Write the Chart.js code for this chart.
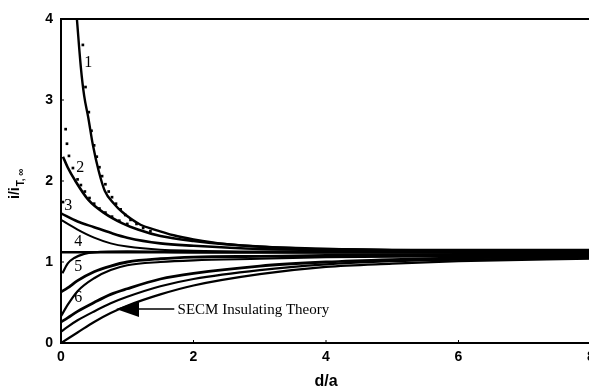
<!DOCTYPE html>
<html>
<head>
<meta charset="utf-8">
<script src="https://cdn.jsdelivr.net/npm/chart.js@4.4.1/dist/chart.umd.min.js"></script>
<style>
  html, body { margin: 0; padding: 0; overflow: hidden; background: #fff; }
  canvas { position: absolute; left: 0; top: 0; }
</style>
</head>
<body>
<canvas id="chart" width="610" height="391"></canvas>
<script>
// curves: x = d/a, y = i/iT,inf
const curve1X = [0.24, 0.30, 0.35, 0.41, 0.48, 0.57, 0.66, 0.80, 0.92, 1.20, 1.41, 1.70, 2.0, 2.5, 3.0, 4.0, 5.0, 6.0, 8.0];
const curve1Y = [4.00, 3.40, 3.05, 2.79, 2.45, 2.12, 1.88, 1.72, 1.62, 1.46, 1.40, 1.33, 1.28, 1.22, 1.19, 1.16, 1.15, 1.15, 1.15];

const curve2X = [0.03, 0.10, 0.21, 0.41, 0.66, 0.92, 1.16, 1.5, 2.0, 3.0, 4.0, 6.0, 8.0];
const curve2Y = [2.30, 2.17, 2.01, 1.77, 1.60, 1.48, 1.40, 1.32, 1.26, 1.19, 1.16, 1.14, 1.14];

const curve3X = [0.0, 0.25, 0.5, 0.75, 1.0, 1.5, 2.0, 3.0, 4.0, 6.0, 8.0];
const curve3Y = [1.60, 1.50, 1.43, 1.36, 1.30, 1.23, 1.20, 1.16, 1.15, 1.14, 1.13];

const curve4X = [0.0, 0.25, 0.5, 0.75, 1.0, 1.5, 2.0, 3.0, 8.0];
const curve4Y = [1.52, 1.40, 1.30, 1.23, 1.19, 1.15, 1.14, 1.13, 1.13];

const flatX = [0.0, 8.0];
const flatY = [1.12, 1.12];

const curveAX = [0.02, 0.10, 0.20, 0.35, 0.50, 1.0, 2.0, 8.0];
const curveAY = [0.86, 0.98, 1.05, 1.10, 1.12, 1.13, 1.12, 1.11];

const curve5X = [0.0, 0.10, 0.25, 0.5, 0.75, 1.0, 1.5, 2.0, 3.0, 4.0, 8.0];
const curve5Y = [0.63, 0.68, 0.77, 0.88, 0.95, 1.00, 1.04, 1.06, 1.07, 1.08, 1.09];

const curveCX = [0.0, 0.10, 0.25, 0.5, 0.75, 1.0, 1.5, 2.0, 3.0, 4.0, 8.0];
const curveCY = [0.33, 0.47, 0.64, 0.80, 0.90, 0.96, 1.00, 1.02, 1.04, 1.06, 1.08];

const curve6X = [0.0, 0.10, 0.25, 0.5, 0.75, 1.0, 1.5, 2.0, 3.0, 4.0, 5.0, 6.0, 8.0];
const curve6Y = [0.26, 0.31, 0.39, 0.50, 0.60, 0.67, 0.79, 0.86, 0.95, 1.00, 1.03, 1.05, 1.07];

const curveEX = [0.0, 0.10, 0.25, 0.5, 0.75, 1.0, 1.5, 2.0, 3.0, 4.0, 5.0, 6.0, 8.0];
const curveEY = [0.14, 0.20, 0.28, 0.39, 0.49, 0.57, 0.70, 0.79, 0.90, 0.97, 1.01, 1.03, 1.05];

const insulX = [0.0, 0.25, 0.5, 0.75, 1.0, 1.5, 2.0, 3.0, 4.0, 5.0, 6.0, 8.0];
const insulY = [0.0, 0.13, 0.26, 0.37, 0.46, 0.60, 0.71, 0.85, 0.94, 0.98, 1.01, 1.04];

// measured points (small squares)
const dots1X = [0.33, 0.37, 0.42, 0.46, 0.50, 0.54, 0.58, 0.62, 0.67, 0.72, 0.77, 0.83, 0.90, 0.97, 1.05, 1.14, 1.24, 1.35];
const dots1Y = [3.68, 3.16, 2.85, 2.62, 2.44, 2.30, 2.17, 2.06, 1.96, 1.87, 1.80, 1.72, 1.65, 1.58, 1.52, 1.47, 1.42, 1.38];

const dots2X = [0.07, 0.09, 0.12, 0.18, 0.25, 0.30, 0.36, 0.43, 0.50, 0.58, 0.67, 0.77, 0.88, 1.00, 0.03];
const dots2Y = [2.64, 2.46, 2.31, 2.16, 2.02, 1.95, 1.87, 1.79, 1.72, 1.66, 1.61, 1.56, 1.51, 1.47, 1.74];

const xTicks = [0, 2, 4, 6, 8];
const yTicks = [0, 1, 2, 3, 4];

const curveLabels = ['1', '2', '3', '4', '5', '6'];
const labelX = [0.41, 0.29, 0.11, 0.26, 0.26, 0.26];
const labelY = [3.46, 2.16, 1.70, 1.25, 0.94, 0.56];

function pts(xs, ys) {
    return xs.map((x, i) => ({ x: x, y: ys[i] }));
}

function lineSet(xs, ys, width) {
    return {
        type: 'line',
        data: pts(xs, ys),
        borderColor: '#000',
        borderWidth: width,
        pointRadius: 0,
        fill: false,
        cubicInterpolationMode: 'monotone'
    };
}

function dotSet(xs, ys) {
    return {
        type: 'scatter',
        data: pts(xs, ys),
        backgroundColor: '#000',
        borderColor: '#000',
        borderWidth: 0,
        pointStyle: 'rect',
        pointRadius: 1.9,
        showLine: false
    };
}

const extras = {
    id: 'extras',
    afterDatasetsDraw(chart) {
        const ctx = chart.ctx;
        const xs = chart.scales.x, ys = chart.scales.y;
        const area = chart.chartArea;
        ctx.save();
        ctx.strokeStyle = '#000';
        ctx.fillStyle = '#000';

        // top frame line
        ctx.lineWidth = 2;
        ctx.beginPath();
        ctx.moveTo(area.left, area.top);
        ctx.lineTo(area.right, area.top);
        ctx.stroke();

        // short inside ticks
        ctx.lineWidth = 1;
        ctx.beginPath();
        xTicks.forEach(v => {
            const px = xs.getPixelForValue(v);
            ctx.moveTo(px, area.bottom);
            ctx.lineTo(px, area.bottom - 3);
        });
        yTicks.forEach(v => {
            const py = ys.getPixelForValue(v);
            ctx.moveTo(area.left, py);
            ctx.lineTo(area.left + 3, py);
        });
        ctx.stroke();

        // curve numbers
        ctx.font = '16px "Liberation Serif"';
        ctx.textAlign = 'center';
        ctx.textBaseline = 'middle';
        curveLabels.forEach((t, i) => {
            ctx.fillText(t, xs.getPixelForValue(labelX[i]), ys.getPixelForValue(labelY[i]));
        });

        // arrow + annotation
        const ay = ys.getPixelForValue(0.42);
        const tip = xs.getPixelForValue(0.83);
        const tail = xs.getPixelForValue(1.71);
        ctx.lineWidth = 1.5;
        ctx.beginPath();
        ctx.moveTo(tip + 20, ay);
        ctx.lineTo(tail, ay);
        ctx.stroke();
        ctx.beginPath();
        ctx.moveTo(tip, ay);
        ctx.lineTo(tip + 23, ay - 8);
        ctx.lineTo(tip + 23, ay + 8);
        ctx.closePath();
        ctx.fill();
        ctx.font = '15px "Liberation Serif"';
        ctx.textAlign = 'left';
        ctx.fillText('SECM Insulating Theory', xs.getPixelForValue(1.76), ay + 1);

        // y axis title with subscript
        ctx.translate(15, ys.getPixelForValue(1.96));
        ctx.rotate(-Math.PI / 2);
        ctx.font = 'bold 14px "Liberation Sans"';
        const main = 'i/i';
        const sub = 'T, \u221E';
        const w1 = ctx.measureText(main).width;
        ctx.font = 'bold 10px "Liberation Sans"';
        const w2 = ctx.measureText(sub).width;
        const start = -(w1 + w2) / 2;
        ctx.textAlign = 'left';
        ctx.font = 'bold 14px "Liberation Sans"';
        ctx.fillText(main, start, 0);
        ctx.font = 'bold 10px "Liberation Sans"';
        ctx.fillText(sub, start + w1 + 1, 6);
        ctx.restore();
    }
};

new Chart(document.getElementById('chart').getContext('2d'), {
    type: 'line',
    data: {
        datasets: [
            lineSet(curve1X, curve1Y, 2.4),
            lineSet(curve2X, curve2Y, 2.6),
            lineSet(curve3X, curve3Y, 2.6),
            lineSet(curve4X, curve4Y, 2.0),
            lineSet(flatX, flatY, 2.6),
            lineSet(curveAX, curveAY, 2.2),
            lineSet(curve5X, curve5Y, 2.8),
            lineSet(curveCX, curveCY, 2.2),
            lineSet(curve6X, curve6Y, 2.8),
            lineSet(curveEX, curveEY, 2.2),
            lineSet(insulX, insulY, 2.2),
            dotSet(dots1X, dots1Y),
            dotSet(dots2X, dots2Y)
        ]
    },
    options: {
        responsive: false,
        animation: false,
        layout: { padding: { left: 0, top: 19, right: 19, bottom: 0 } },
        plugins: { legend: { display: false }, tooltip: { enabled: false } },
        scales: {
            x: {
                type: 'linear',
                min: 0,
                max: 8,
                afterFit(scale) { scale.height = 48; },
                grid: { display: false, drawTicks: false },
                border: { display: true, color: '#000', width: 2 },
                ticks: {
                    stepSize: 2,
                    padding: 6,
                    color: '#000',
                    font: { family: 'Liberation Sans', size: 14, weight: 'bold' }
                },
                title: {
                    display: true,
                    text: 'd/a',
                    color: '#000',
                    padding: { top: 2, bottom: 0 },
                    font: { family: 'Liberation Sans', size: 16, weight: 'bold' }
                }
            },
            y: {
                type: 'linear',
                min: 0,
                max: 4,
                afterFit(scale) { scale.width = 61; },
                grid: { display: false, drawTicks: false },
                border: { display: true, color: '#000', width: 2 },
                ticks: {
                    stepSize: 1,
                    padding: 8,
                    color: '#000',
                    font: { family: 'Liberation Sans', size: 14, weight: 'bold' }
                }
            }
        }
    },
    plugins: [extras]
});
</script>
</body>
</html>
